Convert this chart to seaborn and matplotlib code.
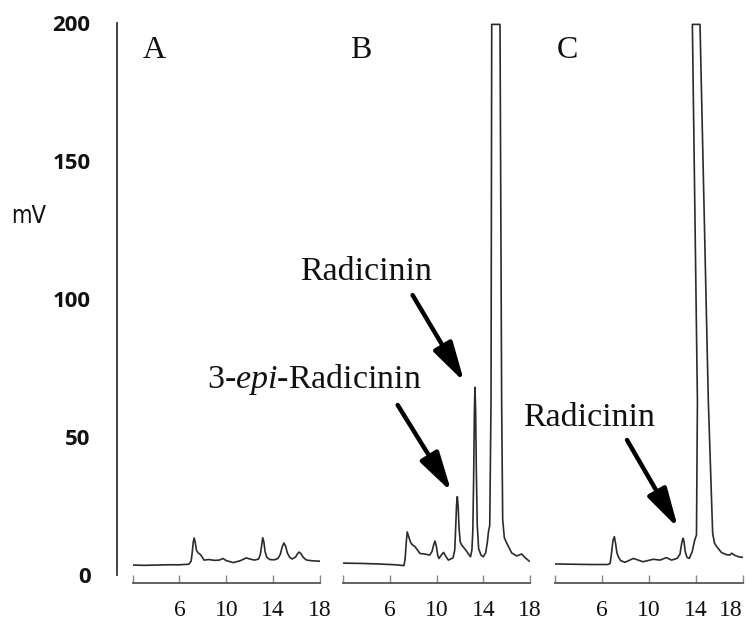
import matplotlib
matplotlib.use("Agg")
import matplotlib.pyplot as plt
import seaborn as sns
import pandas as pd

sns.set_theme(style="white")
plt.rcParams["mathtext.fontset"] = "custom"
plt.rcParams["mathtext.rm"] = "Liberation Serif"
plt.rcParams["mathtext.it"] = "Liberation Serif:italic"

# ---------------- data (retention time in min, signal in mV) ----------------
A_t = [2.0, 3.0, 4.0, 5.0, 6.0, 6.8, 7.0, 7.1, 7.18, 7.26, 7.34, 7.45, 7.6,
       7.8, 8.1, 8.5, 9.0, 9.4, 9.7, 10.0, 10.6, 11.2, 11.7, 12.0, 12.4,
       12.75, 12.9, 13.0, 13.1, 13.2, 13.3, 13.45, 13.7, 14.1, 14.4, 14.6,
       14.75, 14.9, 15.05, 15.2, 15.4, 15.6, 15.9, 16.05, 16.2, 16.35, 16.55,
       16.8, 17.0, 17.5, 18.0]
A_mv = [3.6, 3.5, 3.6, 3.7, 3.7, 3.9, 5.0, 8.5, 12.0, 13.4, 12.0, 9.0, 8.0,
        7.4, 5.4, 5.6, 5.3, 5.4, 6.0, 5.2, 4.5, 5.2, 6.2, 5.8, 5.4,
        5.8, 7.5, 10.5, 13.5, 12.0, 8.5, 6.4, 5.6, 5.5, 6.0, 7.5,
        10.0, 11.6, 10.5, 8.0, 6.4, 5.8, 6.5, 7.6, 8.3, 7.8, 6.4,
        5.5, 5.3, 5.1, 5.0]

B_t = [2.0, 3.5, 5.0, 6.5, 7.2, 7.3, 7.4, 7.48, 7.6, 7.75, 7.9, 8.14, 8.57,
       9.0, 9.4, 9.6, 9.75, 9.86, 9.97, 10.1, 10.2, 10.45, 10.6, 10.75, 11.0,
       11.4, 11.55, 11.63, 11.7, 11.77, 11.84, 11.92, 12.02, 12.14, 12.5, 12.9,
       13.02, 13.1, 13.17, 13.23, 13.28, 13.34, 13.4, 13.48, 13.6, 13.8, 14.0,
       14.2, 14.35, 14.45, 14.55, 14.66, 14.72, 15.43, 15.57, 15.66, 15.8,
       16.0, 16.43, 16.86, 17.1, 17.29, 17.5, 17.94]
B_mv = [4.3, 4.2, 4.0, 3.7, 3.4, 6.0, 12.0, 15.6, 14.0, 12.0, 11.0, 10.3, 7.8,
        7.6, 7.2, 8.5, 11.0, 12.3, 10.5, 7.0, 6.0, 7.5, 8.2, 7.0, 5.4,
        6.2, 9.0, 17.0, 25.0, 28.4, 25.0, 17.0, 12.0, 10.9, 9.0, 6.6,
        9.0, 16.0, 35.0, 58.0, 68.0, 60.0, 38.0, 18.0, 9.5, 7.2, 6.6,
        8.0, 12.0, 16.0, 18.0, 63.0, 199.5, 199.5, 63.0, 20.0, 13.5,
        11.6, 8.0, 6.9, 7.3, 7.6, 6.6, 5.0]

C_t = [2.0, 3.5, 5.0, 6.5, 6.7, 6.82, 6.94, 7.06, 7.16, 7.28, 7.4, 7.6, 7.97,
       8.68, 9.5, 10.38, 10.95, 11.5, 11.93, 12.4, 12.65, 12.78, 12.88, 12.93,
       13.0, 13.1, 13.25, 13.44, 13.7, 13.9, 14.06, 14.14, 13.71, 14.36,
       15.07, 15.44, 15.6, 15.78, 16.2, 16.6, 16.9, 17.06, 17.3, 17.63, 18.0]
C_mv = [4.0, 3.9, 3.8, 3.8, 4.2, 8.0, 12.5, 13.9, 11.5, 8.0, 6.6, 5.2, 4.6,
        6.0, 4.8, 5.7, 5.4, 6.3, 5.4, 6.0, 7.5, 11.0, 13.0, 13.3,
        12.0, 8.5, 6.4, 6.0, 8.5, 12.5, 14.5, 63.0, 199.5, 199.5,
        63.0, 15.0, 11.5, 10.3, 8.1, 7.4, 7.2, 7.9, 7.2, 6.6, 6.4]

panels = ["A", "B", "C"]
x_ticks = [2, 6, 10, 14, 18]
x_tick_labels = ["", "6", "10", "14", "18"]
y_ticks = [0, 50, 100, 150, 200]
y_tick_labels = ["0", "50", "100", "150", "200"]

# ---------------- layout helpers (pixel -> figure fraction) ----------------
W, H = 753, 623
fig = plt.figure(figsize=(W / 100, H / 100), dpi=100)
fig.patch.set_facecolor("white")

y0_px, y200_px = 575, 23
bottom = (H - y0_px) / H
height = (y0_px - y200_px) / H


def fx(px):
    return px / W


def fy(py):
    return 1 - py / H


line_col = "#2b2b2b"
axis_col = "#555555"

# ---------------- shared y axis ----------------
axy = fig.add_axes([fx(117), bottom, 0.001, height])
axy.set_ylim(0, 200)
axy.set_xticks([])
for s in ["top", "right", "bottom"]:
    axy.spines[s].set_visible(False)
axy.spines["left"].set_color("#333333")
axy.spines["left"].set_linewidth(1.3)
axy.set_yticks(y_ticks)
axy.set_yticklabels(y_tick_labels, fontfamily="Open Sans", fontweight="bold",
                    fontsize=16, color="#111111")
axy.tick_params(axis="y", which="major", length=0, pad=19)
axy.set_yticks([50, 100, 150], minor=True)
axy.tick_params(axis="y", which="minor", direction="in", length=9, width=1.0,
                color="#888888", left=True)
axy.patch.set_alpha(0)
fig.text(fx(29), fy(216), "mV", fontfamily="DejaVu Sans", fontstretch="condensed",
         fontsize=17, ha="center", va="center", color="#111111")

# ---------------- panels ----------------
panel_px = [(132.5, 320.2), (343.3, 530.0), (555.0, 742.7)]
series = [(A_t, A_mv), (B_t, B_mv), (C_t, C_mv)]
axes = []
for (x0, x1), (t, mv), name in zip(panel_px, series, panels):
    ax = fig.add_axes([fx(x0), bottom, fx(x1) - fx(x0), height])
    df = pd.DataFrame({"t": t, "mv": mv})
    sns.lineplot(data=df, x="t", y="mv", ax=ax, sort=False, estimator=None,
                 color=line_col, linewidth=1.2)
    ax.set_xlim(2, 18)
    ax.set_ylim(0, 200)
    ax.set_xlabel("")
    ax.set_ylabel("")
    ax.patch.set_alpha(0)
    for s in ["top", "right", "left"]:
        ax.spines[s].set_visible(False)
    ax.spines["bottom"].set_position(("outward", 6))
    ax.spines["bottom"].set_color(axis_col)
    ax.spines["bottom"].set_linewidth(1.3)
    ax.set_yticks([])
    ax.set_xticks(x_ticks)
    ax.set_xticklabels(x_tick_labels, fontfamily="Liberation Serif",
                       fontsize=17, color="#111111")
    ax.tick_params(axis="x", direction="in", length=6, width=1.0,
                   color="#888888", pad=12, bottom=True)
    axes.append(ax)

# keep the last "18" inside the canvas
axes[2].get_xticklabels()[-1].set_horizontalalignment("right")
axes[2].get_xticklabels()[-1].set_x(18)

# panel letters
serif = "Liberation Serif"
fig.text(fx(143), fy(58), "A", fontfamily=serif, fontsize=23, va="baseline", color="#111111")
fig.text(fx(350), fy(58), "B", fontfamily=serif, fontsize=23, va="baseline", color="#111111")
fig.text(fx(557), fy(58), "C", fontfamily=serif, fontsize=23, va="baseline", color="#111111")

# peak labels
fig.text(fx(300), fy(280), "Radicinin", fontfamily=serif, fontsize=24.5,
         va="baseline", ha="left", color="#111111")
fig.text(fx(422), fy(388), r"3-$\mathit{epi}$-Radicinin", fontfamily=serif,
         fontsize=24.5, va="baseline", ha="right", color="#111111")
fig.text(fx(523), fy(426), "Radicinin", fontfamily=serif, fontsize=24.5,
         va="baseline", ha="left", color="#111111")

# arrows (panel data coordinates)
arrow_kw = dict(arrowstyle="-|>,head_length=1.2,head_width=0.32", lw=3.2,
                color="black", mutation_scale=20, shrinkA=0, shrinkB=0)
axB, axC = axes[1], axes[2]
axB.annotate("", xy=(11.27, 30.1), xytext=(6.66, 61.6), arrowprops=arrow_kw,
             annotation_clip=False)
axB.annotate("", xy=(12.37, 69.9), xytext=(7.94, 101.4), arrowprops=arrow_kw,
             annotation_clip=False)
axC.annotate("", xy=(12.49, 17.0), xytext=(8.14, 48.9), arrowprops=arrow_kw,
             annotation_clip=False)

fig.savefig("out.png", dpi=100, facecolor="white")
